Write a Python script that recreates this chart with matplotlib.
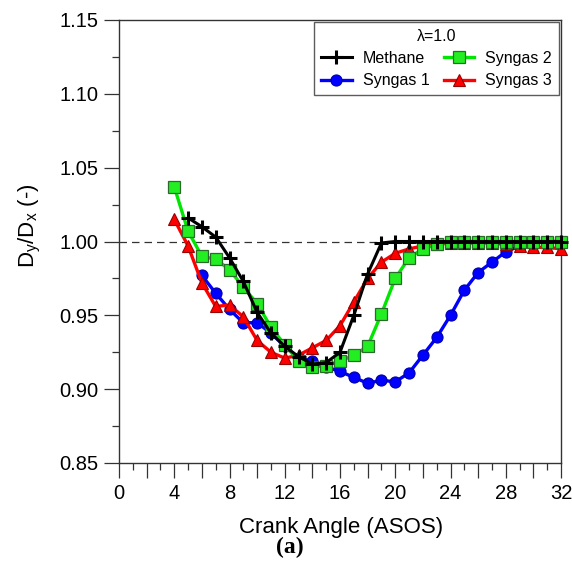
import numpy as np
import matplotlib
matplotlib.use('Agg')
import matplotlib.pyplot as plt
from matplotlib.ticker import MultipleLocator, FuncFormatter

plt.rcParams.update({
    'font.family': ['Liberation Sans', 'DejaVu Sans'],
    'mathtext.fontset': 'custom',
    'mathtext.rm': 'Liberation Sans',
    'mathtext.default': 'regular',
})

# crank angle (ASOS) for each series
x_methane = np.arange(5, 33)
x_syngas1 = np.arange(6, 33)
x_syngas2 = np.arange(4, 33)
x_syngas3 = np.arange(4, 33)

methane = [1.016, 1.010, 1.003, 0.989, 0.973, 0.952, 0.938, 0.929, 0.922, 0.917,
           0.918, 0.925, 0.950, 0.978, 0.999, 1.000, 1.000, 1.000, 1.000, 1.000,
           1.000, 1.000, 1.000, 1.000, 1.000, 1.000, 1.000, 1.000]
syngas1 = [0.977, 0.965, 0.954, 0.945, 0.945, 0.938, 0.929, 0.921, 0.919, 0.915,
           0.912, 0.908, 0.904, 0.906, 0.905, 0.911, 0.923, 0.935, 0.950, 0.967,
           0.979, 0.986, 0.993, 0.997, 0.999, 1.000, 1.000]
syngas2 = [1.037, 1.007, 0.990, 0.988, 0.981, 0.969, 0.958, 0.942, 0.930, 0.919,
           0.915, 0.916, 0.919, 0.923, 0.929, 0.951, 0.975, 0.989, 0.995, 0.998,
           1.000, 1.000, 1.000, 1.000, 1.000, 1.000, 1.000, 1.000, 1.000]
syngas3 = [1.015, 0.997, 0.972, 0.956, 0.957, 0.949, 0.933, 0.925, 0.921, 0.923,
           0.928, 0.933, 0.943, 0.959, 0.975, 0.986, 0.992, 0.995, 0.997, 0.998,
           0.999, 0.999, 0.999, 0.999, 0.998, 0.997, 0.996, 0.996, 0.995]

fig = plt.figure(figsize=(5.72, 5.72), dpi=100)
ax = fig.add_axes([119 / 572, 1 - 463 / 572, 442 / 572, 443 / 572])

ax.axhline(1.0, color='#333333', lw=0.9, ls=(0, (6, 4)), zorder=1)

ax.plot(x_methane, methane, color='black', lw=2.2, marker='+', ms=10, mew=2.2,
        label='Methane', clip_on=False, zorder=5)
ax.plot(x_syngas1, syngas1, color='#0000ff', lw=2.4, marker='o', ms=8,
        mec='#0000aa', mew=0.8, label='Syngas 1', clip_on=False, zorder=3)
ax.plot(x_syngas2, syngas2, color='#00e600', lw=2.4, marker='s', ms=8.5,
        mfc='#22ee22', mec='#2a6a2a', mew=0.9, label='Syngas 2', clip_on=False, zorder=4)
ax.plot(x_syngas3, syngas3, color='#ff0000', lw=2.4, marker='^', ms=8,
        mec='#990000', mew=0.8, label='Syngas 3', clip_on=False, zorder=3)

ax.set_xlim(0, 32)
ax.set_ylim(0.85, 1.15)
ax.xaxis.set_major_locator(MultipleLocator(2))
ax.xaxis.set_minor_locator(MultipleLocator(1))
ax.xaxis.set_major_formatter(FuncFormatter(lambda v, p: '%d' % v if round(v) % 4 == 0 else ''))
ax.yaxis.set_major_locator(MultipleLocator(0.05))
ax.yaxis.set_minor_locator(MultipleLocator(0.025))
ax.yaxis.set_major_formatter(FuncFormatter(lambda v, p: '%.2f' % v))

ax.tick_params(which='major', direction='out', length=11, width=0.9,
               color='#333333', labelsize=14.5, pad=4)
ax.tick_params(which='minor', direction='out', length=5, width=0.9, color='#333333')
for s in ax.spines.values():
    s.set_color('#333333')
    s.set_linewidth(1.0)

leg = ax.legend(loc='upper right', ncol=2, title='λ=1.0', fontsize=11.5,
                title_fontsize=11.5, frameon=True, fancybox=False,
                borderaxespad=0.1, handlelength=1.9, columnspacing=0.9,
                handletextpad=0.7, labelspacing=0.45, borderpad=0.45)
leg.get_frame().set_edgecolor('#333333')
leg.get_frame().set_linewidth(1.0)

fig.text(341 / 572, 1 - 528 / 572, 'Crank Angle (ASOS)', fontsize=16,
         ha='center', va='center')
fig.text(30 / 572, 1 - 226 / 572, 'D$_{y}$/D$_{x}$ (-)', fontsize=16,
         rotation=90, ha='center', va='center')
fig.text(290 / 572, 1 - 547 / 572, '(a)', fontsize=17, fontweight='bold',
         family='Liberation Serif', ha='center', va='center')

fig.savefig('out.png', dpi=100)
